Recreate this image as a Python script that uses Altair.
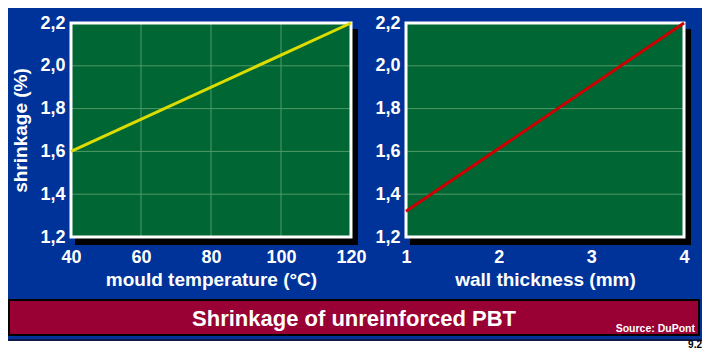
import altair as alt
import pandas as pd

# ---- data ----
temp = [40, 120]
shrink_temp = [1.6, 2.2]
thick = [1, 4]
shrink_thick = [1.32, 2.2]
y_ticks = [1.2, 1.4, 1.6, 1.8, 2.0, 2.2]
y_grid = [1.4, 1.6, 1.8, 2.0]
temp_ticks = [40, 60, 80, 100, 120]
temp_grid = [60, 80, 100]
thick_ticks = [1, 2, 3, 4]
thick_grid = []
title_text = "Shrinkage of unreinforced PBT"
source_text = "Source: DuPont"
fig_no = "9.2"

BLUE = "#003399"
GREEN = "#006633"
GRID = "#4f9a68"
BANNER = "#990033"
FONT = "Liberation Sans"

ONE = alt.Data(values=[{"a": 1}])

LW, RW, PH, GAP = 280, 278, 214, 55
LEFT_EXT = 63          # page x of left view (71) minus page margin (8)


def panel(xfield, xs, ys, xticks, xgrid, xtitle, ytitle, color, w, h):
    df = pd.DataFrame({xfield: xs, "shrink": ys})
    xscale = alt.Scale(domain=[xticks[0], xticks[-1]], nice=False, zero=False)
    yscale = alt.Scale(domain=[y_ticks[0], y_ticks[-1]], nice=False, zero=False)
    common = dict(domain=False, ticks=False, tickSize=0, grid=False,
                  labelFont=FONT, labelFontSize=18, labelFontWeight="bold", labelColor="white",
                  titleFont=FONT, titleFontSize=19, titleFontWeight="bold", titleColor="white",
                  labelOverlap=False)
    xaxis = alt.Axis(values=xticks, title=xtitle, labelPadding=11, titlePadding=4,
                     labelFlush=False, **common)
    yaxis = alt.Axis(values=y_ticks, title=ytitle, labelPadding=6, titlePadding=9,
                     labelExpr="replace(format(datum.value, '.1f'), '.', ',')", **common)
    X = lambda: alt.X(f"{xfield}:Q", scale=xscale, axis=xaxis)
    Y = lambda: alt.Y("shrink:Q", scale=yscale, axis=yaxis)

    shadow = alt.Chart(ONE).mark_rect(color="black").encode(
        x=alt.value(4), x2=alt.value(w + 7), y=alt.value(6), y2=alt.value(h + 8))
    field = alt.Chart(ONE).mark_rect(color=GREEN).encode(
        x=alt.value(0), x2=alt.value(w), y=alt.value(0), y2=alt.value(h))
    layers = [shadow, field]
    hg = alt.Chart(pd.DataFrame({"shrink": y_grid})).mark_rule(color=GRID, strokeWidth=1).encode(
        y=Y(), x=alt.value(0), x2=alt.value(w))
    layers.append(hg)
    if xgrid:
        vg = alt.Chart(pd.DataFrame({xfield: xgrid})).mark_rule(color=GRID, strokeWidth=1).encode(
            x=X(), y=alt.value(0), y2=alt.value(h))
        layers.append(vg)
    border = alt.Chart(ONE).mark_rect(fillOpacity=0, stroke="white", strokeWidth=3).encode(
        x=alt.value(0), x2=alt.value(w), y=alt.value(0), y2=alt.value(h))
    layers.append(border)
    line = alt.Chart(df).mark_line(color=color, strokeWidth=3).encode(x=X(), y=Y())
    layers.append(line)
    return alt.layer(*layers).properties(width=w, height=h)


left = panel("temp", temp, shrink_temp, temp_ticks, temp_grid,
             "mould temperature (°C)", "shrinkage (%)", "#dcdc00", LW, PH)
right = panel("thick", thick, shrink_thick, thick_ticks, thick_grid,
              "wall thickness (mm)", "", "#cc0000", RW, PH)

row1 = alt.hconcat(left, right, spacing=GAP, bounds="flush")

# banner: view origin is aligned with the left plot; rects reach back to the page edge
BW, BH = LW + GAP + RW, 37
bx0, bx1 = -LEFT_EXT, 692 - LEFT_EXT
banner = alt.layer(
    alt.Chart(ONE).mark_rect(color=BANNER, stroke="black", strokeWidth=2).encode(
        x=alt.value(bx0 + 1), x2=alt.value(bx1 - 1), y=alt.value(1), y2=alt.value(BH - 1)),
    alt.Chart(ONE).mark_text(text=title_text, font=FONT, fontSize=22, fontWeight="bold",
                             color="white", align="center", baseline="alphabetic").encode(
        x=alt.value((bx0 + bx1) / 2), y=alt.value(27)),
    alt.Chart(ONE).mark_text(text=source_text, font=FONT, fontSize=10.5, fontWeight="bold",
                             color="white", align="right", baseline="alphabetic").encode(
        x=alt.value(bx1 - 5), y=alt.value(33)),
).properties(width=BW, height=BH)

FH = 11
fx0, fx1 = -LEFT_EXT, 694 - LEFT_EXT
footer = alt.layer(
    alt.Chart(ONE).mark_rect(color="white").encode(
        x=alt.value(fx0), x2=alt.value(fx1), y=alt.value(2), y2=alt.value(FH)),
    alt.Chart(ONE).mark_rect(color="#0d1a4a").encode(
        x=alt.value(fx0), x2=alt.value(fx1), y=alt.value(0), y2=alt.value(2)),
    alt.Chart(ONE).mark_text(text=fig_no, font=FONT, fontSize=10, fontWeight="bold",
                             color="black", align="right", baseline="bottom").encode(
        x=alt.value(fx1), y=alt.value(FH)),
).properties(width=BW, height=FH)

inner = alt.vconcat(row1, banner, spacing=10)
chart = alt.vconcat(inner, footer, spacing=3).properties(
    background=BLUE,
    padding={"left": 0, "top": 6, "right": 0, "bottom": 0},
).configure_view(strokeWidth=0)

chart.save("out.html", embed_options={"renderer": "svg", "actions": False})
